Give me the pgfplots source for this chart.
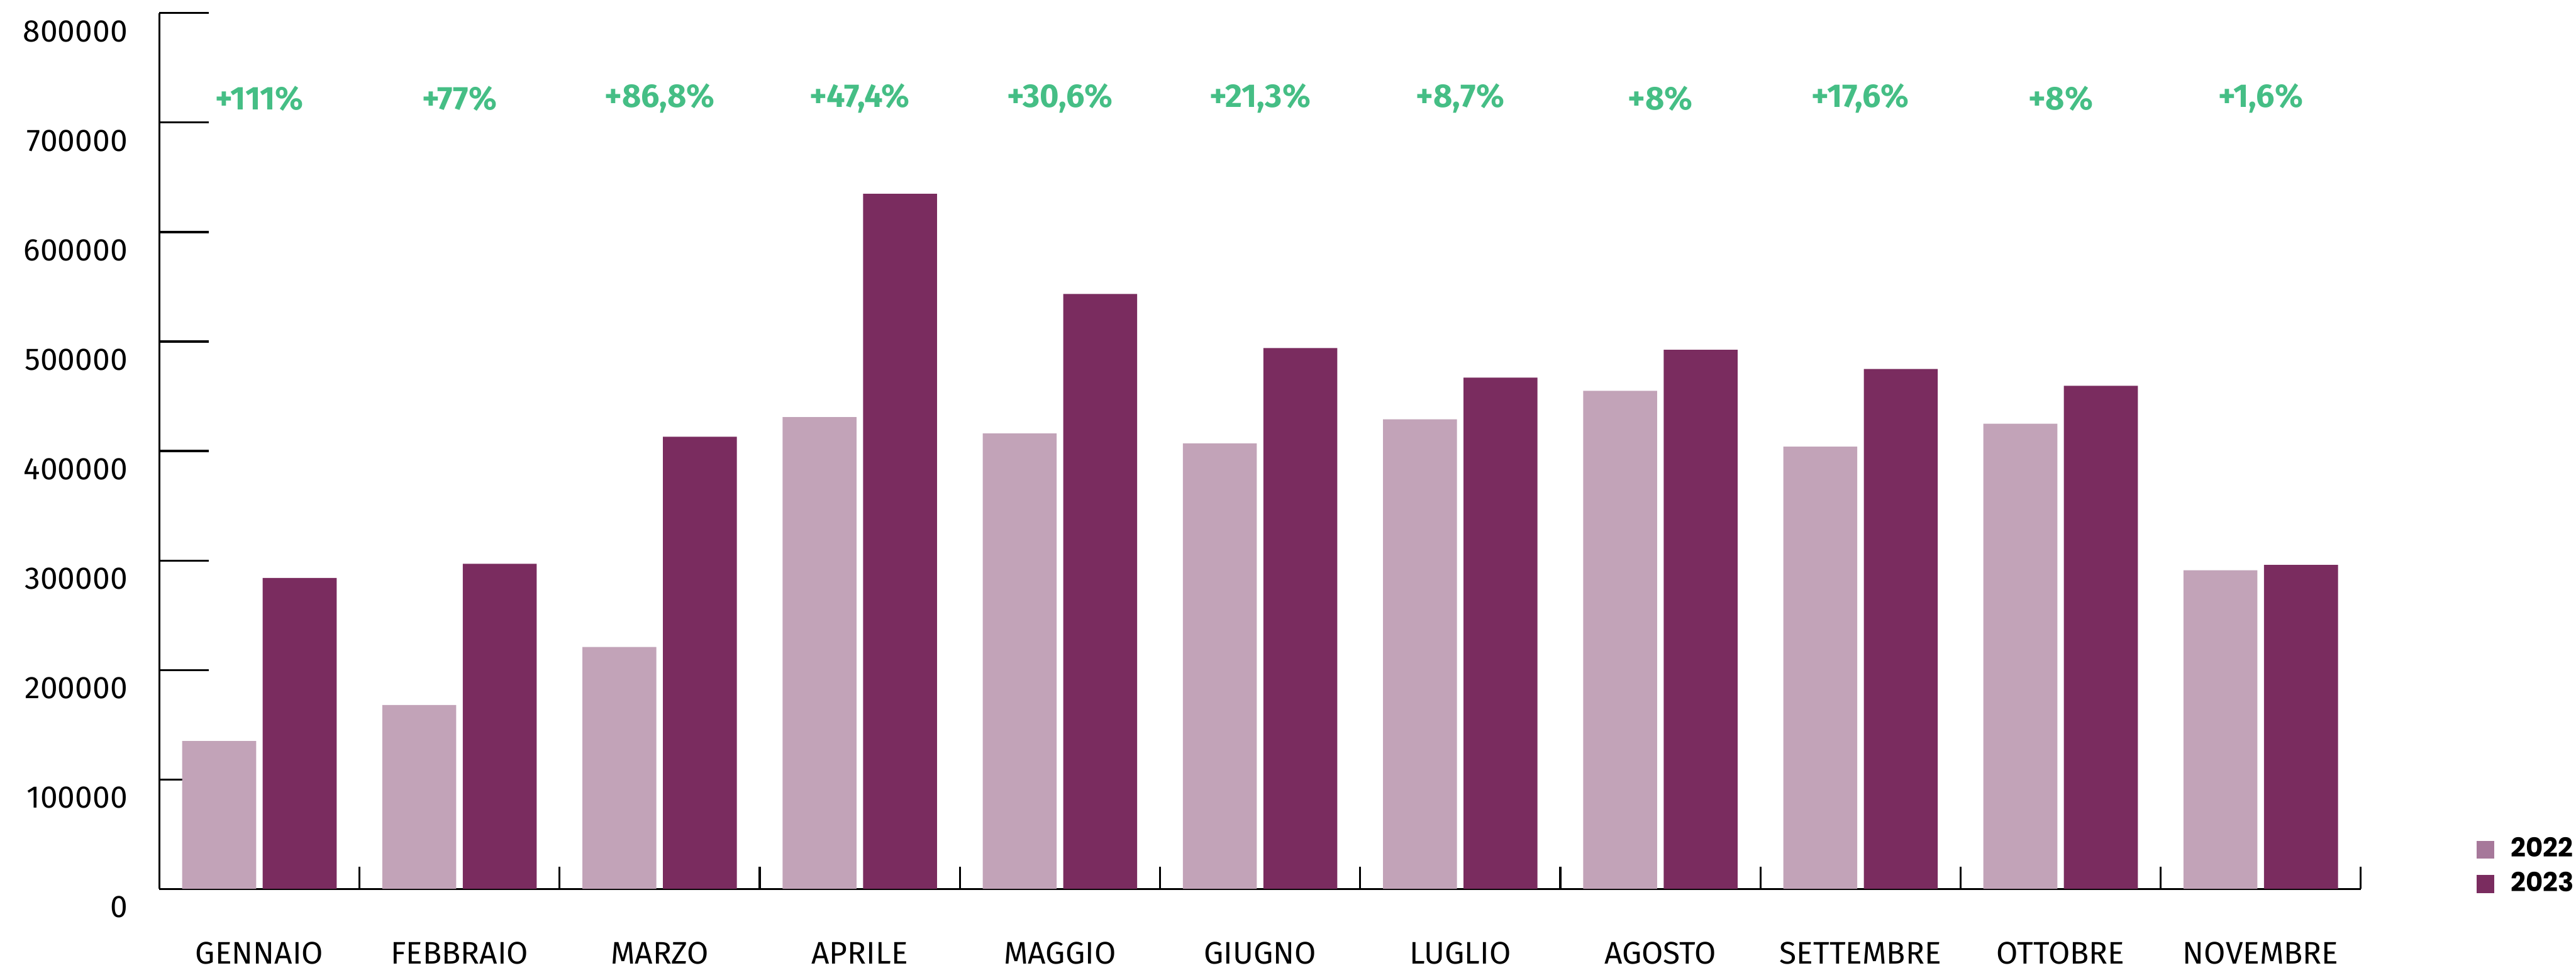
\documentclass[border=0pt]{standalone}
\usepackage{fontspec}
\setmainfont{Fira Sans}
\newfontfamily\legfont{Poppins}
\usepackage{pgfplots}
\pgfplotsset{compat=1.18}
\definecolor{c22}{HTML}{C2A3B8}
\definecolor{c23}{HTML}{7A2C5F}
\definecolor{c22leg}{HTML}{A6789A}
\definecolor{pctgreen}{HTML}{45BE85}
\begin{document}
\begin{tikzpicture}
\begin{axis}[
  scale only axis, width=670pt, height=266.5pt,
  xmin=-0.5, xmax=10.5, ymin=0, ymax=800000,
  axis lines=left,
  axis line style={-, line width=0.6pt, black},
  tick align=inside,
  xtick={0,...,10},
  xticklabels={GENNAIO,FEBBRAIO,MARZO,APRILE,MAGGIO,GIUGNO,LUGLIO,AGOSTO,SETTEMBRE,OTTOBRE,NOVEMBRE},
  minor xtick={0.5,1.5,...,10.5},
  major x tick style={draw=none},
  minor x tick style={line width=0.6pt, black},
  minor tick length=6.7pt,
  ytick={0,100000,...,800000},
  major tick length=15pt,
  ytick style={line width=0.6pt, black},
  scaled y ticks=false,
  /pgf/number format/assume math mode=true,
  yticklabel style={/pgf/number format/fixed, /pgf/number format/precision=0, /pgf/number format/1000 sep={},
    anchor=east, inner sep=0pt, xshift=-9.5pt, yshift=-5.5pt, font=\fontsize{9.5}{11}\selectfont},
  every x tick label/.append style={inner sep=0pt, yshift=-16pt, font=\fontsize{9.5}{11}\selectfont},
  legend image code/.code={\fill[draw=none,#1] (0pt,-2.75pt) rectangle (5.5pt,2.75pt);},
  legend style={at={(1,0)}, anchor=south west, xshift=35pt, yshift=-3.5pt, draw=none, fill=none,
    inner sep=0pt, row sep=1pt, nodes={inner sep=1pt}, font=\legfont\bfseries\fontsize{8}{8}\selectfont,
    /tikz/every odd column/.append style={column sep=4pt}},
  legend cell align=left,
]
\addplot[ybar, bar width=22.5pt, bar shift=-12.25pt, fill=c22, draw=none, forget plot] coordinates {
 (0,135000) (1,168000) (2,221000) (3,431000) (4,416000) (5,407000) (6,429000) (7,455000) (8,404000) (9,425000) (10,291000)};
\addplot[ybar, bar width=22.5pt, bar shift=12.25pt, fill=c23, draw=none, forget plot] coordinates {
 (0,284000) (1,297000) (2,413000) (3,635000) (4,543500) (5,494000) (6,467000) (7,492500) (8,475000) (9,459500) (10,296000)};
\addlegendimage{draw=none, fill=c22leg}
\addlegendentry{2022}
\addlegendimage{draw=none, fill=c23}
\addlegendentry{2023}
\begin{scope}[every node/.style={text=pctgreen, font=\bfseries\fontsize{10}{11}\selectfont}]
\node at (axis cs:0,722000) {+111\%};
\node at (axis cs:1,722000) {+77\%};
\node at (axis cs:2,722000) {+86,8\%};
\node at (axis cs:3,722000) {+47,4\%};
\node at (axis cs:4,722000) {+30,6\%};
\node at (axis cs:5,722000) {+21,3\%};
\node at (axis cs:6,722000) {+8,7\%};
\node at (axis cs:7,722000) {+8\%};
\node at (axis cs:8,722000) {+17,6\%};
\node at (axis cs:9,722000) {+8\%};
\node at (axis cs:10,722000) {+1,6\%};
\end{scope}
\end{axis}
\pgfresetboundingbox
\path[use as bounding box] ([xshift=-48.5pt,yshift=-24pt]current axis.south west) rectangle ([xshift=65.5pt,yshift=4pt]current axis.north east);
\end{tikzpicture}
\end{document}
